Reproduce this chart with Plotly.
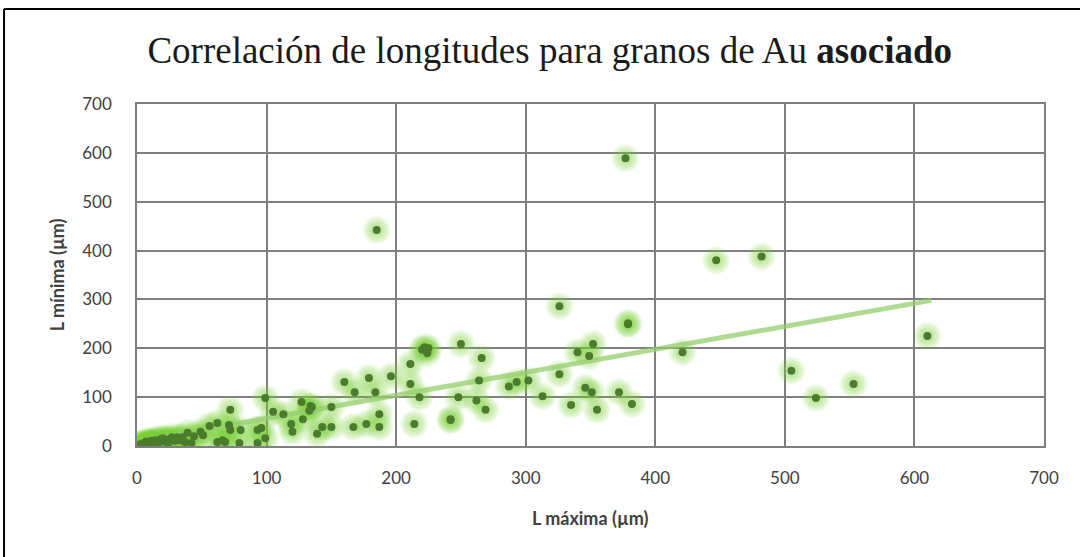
import plotly.graph_objects as go

# ---- data ----
l_max = [2, 3, 4, 5, 6, 7, 8, 9, 10, 11, 12, 13, 14, 15, 16, 18, 20, 21, 22, 24,
         25, 27, 29, 31, 33, 35, 37, 39, 42, 44,
         49, 51, 56, 62, 62, 66, 68, 71, 72, 72, 79, 80, 93, 93, 96, 99, 99,
         105, 113, 119, 120, 127, 128, 134, 135, 133, 139, 143, 150, 150, 160, 167,
         168, 177, 179, 184, 185, 187, 187, 196,
         211, 211, 214, 218, 220, 222, 225, 224, 242, 242, 248, 250, 262, 264, 266,
         269, 287, 293,
         302, 313, 326, 326, 335, 340, 346, 349, 351, 352, 355, 372, 377, 379, 379,
         382, 421, 447, 482, 505, 524, 553, 610]
l_min = [1, 4, 2, 6, 3, 9, 5, 2, 8, 11, 4, 7, 12, 10, 3, 14, 16, 9, 13, 6,
         14, 18, 11, 18, 12, 18, 8, 27, 6, 20,
         29, 22, 41, 47, 8, 12, 8, 43, 74, 33, 6, 33, 6, 33, 37, 98, 16,
         70, 65, 45, 29, 90, 55, 82, 80, 72, 25, 39, 39, 80, 131, 39,
         110, 45, 139, 110, 442, 65, 39, 143,
         168, 127, 45, 100, 197, 202, 200, 190, 53, 55, 100, 209, 93, 134, 180,
         74, 122, 131,
         134, 102, 286, 147, 84, 192, 119, 184, 110, 209, 74, 110, 589, 249, 251,
         86, 192, 380, 388, 154, 98, 127, 225]

# linear trend line endpoints (as drawn in the reference)
trend_x = [3, 613]
trend_y = [11, 298]

x_ticks = [0, 100, 200, 300, 400, 500, 600, 700]
y_ticks = [0, 100, 200, 300, 400, 500, 600, 700]

title_text = "Correlación de longitudes para granos de Au <b>asociado</b>"
x_title = "L máxima (µm)"
y_title = "L mínima (µm)"

fig = go.Figure()

# soft glow layers
for size in [28, 25, 22, 19, 16, 13]:
    fig.add_trace(go.Scatter(x=l_max, y=l_min, mode="markers", hoverinfo="skip",
                             marker=dict(size=size, color="rgba(125,215,55,0.09)",
                                         line=dict(width=0)),
                             showlegend=False))
# trend line
fig.add_trace(go.Scatter(x=trend_x, y=trend_y, mode="lines",
                         line=dict(color="rgba(150,205,110,0.75)", width=5),
                         showlegend=False))
# markers
fig.add_trace(go.Scatter(x=l_max, y=l_min, mode="markers",
                         marker=dict(size=8, color="#4A7C2C", line=dict(width=0)),
                         showlegend=False))

grid = "#7f7f7f"
tickfont = dict(family="Lato", size=17, color="#404040")

fig.update_layout(
    width=1080, height=557,
    margin=dict(l=137, r=36, t=104, b=111),
    paper_bgcolor="white", plot_bgcolor="white",
    title=dict(text=title_text, x=0.509, xanchor="center", xref="container",
               y=0.91, yref="container", yanchor="middle",
               font=dict(family="Liberation Serif", size=37, color="#1a1a1a")),
    xaxis=dict(range=[0, 700], tickvals=x_ticks, showgrid=True, gridcolor=grid, gridwidth=1.5,
               showline=True, linecolor=grid, linewidth=1.5, mirror=True, zeroline=False,
               ticks="", tickfont=tickfont, ticklabelstandoff=16, fixedrange=True),
    yaxis=dict(range=[0, 700], tickvals=y_ticks, showgrid=True, gridcolor=grid, gridwidth=1.5,
               showline=True, linecolor=grid, linewidth=1.5, mirror=True, zeroline=False,
               ticks="", tickfont=tickfont, ticklabelstandoff=20, fixedrange=True),
    annotations=[
        dict(text="<b>" + x_title + "</b>", xref="paper", yref="paper",
             x=0.5, y=-0.21, xanchor="center", yanchor="middle", showarrow=False,
             font=dict(family="Lato", size=18, color="#404040")),
        dict(text="<b>" + y_title + "</b>", xref="paper", yref="paper",
             x=-0.088, y=0.5, xanchor="center", yanchor="middle", showarrow=False,
             textangle=-90, font=dict(family="Lato", size=18, color="#404040")),
    ],
    shapes=[
        dict(type="line", xref="paper", yref="paper", x0=-0.1466, x1=1.05,
             y0=1.278, y1=1.278, line=dict(color="black", width=2)),
        dict(type="line", xref="paper", yref="paper", x0=-0.1466, x1=-0.1466,
             y0=1.278, y1=-0.33, line=dict(color="black", width=2)),
    ],
)

fig.write_html("out.html")
